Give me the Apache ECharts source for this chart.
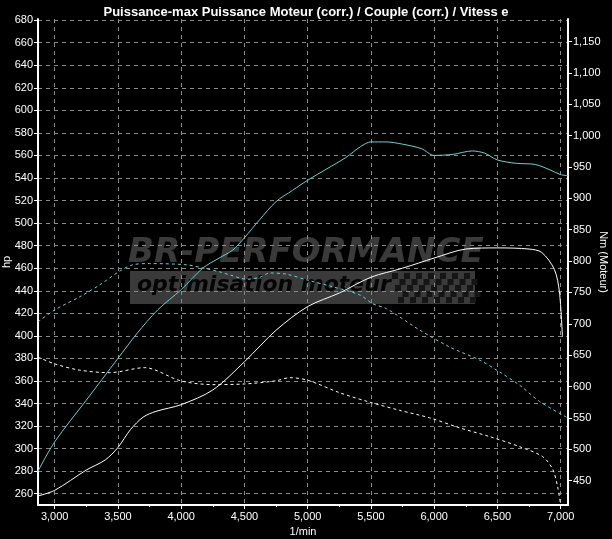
<!DOCTYPE html>
<html><head><meta charset="utf-8">
<script src="https://cdn.jsdelivr.net/npm/echarts@6/dist/echarts.min.js"></script>
<style>html,body{margin:0;padding:0;background:#000;}#c{width:612px;height:539px;}</style>
</head><body><div id="c"></div>
<script>
// ---- data ----
const titleText = 'Puissance-max Puissance Moteur (corr.) / Couple (corr.) / Vitess e';
const rpmTicks = [3000,3500,4000,4500,5000,5500,6000,6500,7000];
const rpmMinorTicks = [3250,3750,4250,4750,5250,5750,6250,6750];
const hpTicks = [260,280,300,320,340,360,380,400,420,440,460,480,500,520,540,560,580,600,620,640,660,680];
const nmTicks = [450,500,550,600,650,700,750,800,850,900,950,1000,1050,1100,1150];

// power after (cyan solid), hp
const rpmPowerAfter = [2868,3000,3250,3500,3650,3814,4000,4170,4300,4407,4500,4620,4750,4880,5000,5150,5300,5420,5500,5620,5750,5900,6000,6150,6300,6400,6500,6650,6800,6920,7000,7058];
const hpPowerAfter  = [280,306,343,380,402,423,441,460,469,476,487,503,519,529,538,548,558,568,572,572,570,566,560,561,564,562,556,553,552,547,543,542];

// torque after (cyan dashed), Nm
const rpmTorqueAfter = [2868,3000,3198,3356,3514,3617,3751,4043,4170,4300,4383,4518,4620,4700,4834,4992,5198,5411,5514,5624,5885,6122,6360,6518,6676,6834,7047];
const nmTorqueAfter  = [703,722,743,762,784,794,796,794,789,783,778,771,774,781,779,770,759,746,732,724,690,663,642,623,602,576,551];

// power before (white solid), hp
const rpmPowerBefore = [2868,3000,3250,3400,3500,3600,3700,3800,4000,4250,4500,4750,5000,5250,5500,5750,6000,6250,6500,6750,6850,6950,6990,7014];
const hpPowerBefore  = [258,263,281,290,301,317,328,333,339,352,377,405,426,438,452,460,469,477,478,477,474,459,439,399];

// torque before (white dashed), Nm
const rpmTorqueBefore = [2868,3000,3198,3435,3711,3996,4249,4502,4747,4858,5000,5253,5490,5727,5964,6202,6439,6676,6858,6937,6976,7000];
const nmTorqueBefore  = [647,636,626,622,630,609,603,604,609,614,610,590,575,562,550,534,520,504,488,468,440,411];

// ---- chart ----
const FONT = '"Liberation Sans Narrow","Arial Narrow","Liberation Sans",Arial,sans-serif';
const pairs = (xs, ys) => xs.map((x, i) => [x, ys[i]]);
const fmtComma = v => String(v).replace(/\B(?=(\d{3})+(?!\d))/g, ',');
const CYAN = '#6fd0d0';
const GRIDC = '#8a8a8a';

const chart = echarts.init(document.getElementById('c'), null, {renderer: 'canvas'});

// checkered flag squares (decoration of the watermark)
const flag = [];
for (let r = 0; r < 5; r++) {
  for (let c = 0; c < 14; c++) {
    if ((r + c) % 2 === 0) {
      flag.push({type: 'rect', shape: {x: 392 + c * 6 + r * 1.5, y: 273 + r * 6, width: 6, height: 6}, style: {fill: '#151515'}, z: -5, silent: true});
    }
  }
}

chart.setOption({
  backgroundColor: '#000',
  animation: false,
  title: {
    text: titleText, left: 'center', top: 1,
    textStyle: {color: '#fff', fontSize: 13, fontWeight: 'bold', fontFamily: FONT}
  },
  graphic: [
    {type: 'text', left: 128, top: 236, z: -5, silent: true,
     style: {text: 'BR-PERFORMANCE', fill: '#3a3a3a', font: 'italic bold 34px "DejaVu Sans", sans-serif'}},
    {type: 'rect', shape: {x: 130, y: 271, width: 345, height: 33}, style: {fill: '#3a3a3a'}, z: -6, silent: true},
    {type: 'text', left: 137, top: 274, z: -5, silent: true,
     style: {text: 'optimisation moteur', fill: '#050505', font: 'italic bold 22px "DejaVu Sans", sans-serif'}}
  ].concat(flag),
  grid: {left: 38, right: 44, top: 19, bottom: 34, show: false, containLabel: false, outerBoundsMode: 'none'},
  xAxis: [{
    type: 'value', min: 2868, max: 7058,
    name: '1/min', nameLocation: 'middle', nameGap: 21, nameMoveOverlap: false,
    nameTextStyle: {color: '#fff', fontSize: 11, fontFamily: FONT},
    axisLine: {show: true, onZero: false, lineStyle: {color: '#fff', width: 2}},
    axisTick: {show: true, length: 4, customValues: rpmTicks, lineStyle: {color: '#fff'}},
    axisLabel: {customValues: rpmTicks, color: '#fff', fontSize: 11, fontFamily: FONT, formatter: fmtComma, margin: 6},
    splitLine: {show: true, lineStyle: {color: GRIDC, type: [4, 4], width: 1}}
  }, {
    type: 'value', min: 2868, max: 7058, position: 'bottom',
    axisLine: {show: false},
    axisTick: {show: true, length: 2, customValues: rpmMinorTicks, lineStyle: {color: '#fff'}},
    axisLabel: {show: false}, splitLine: {show: false}
  }],
  yAxis: [{
    type: 'value', min: 250, max: 681, position: 'left',
    name: 'hp', nameLocation: 'middle', nameGap: 26, nameRotate: 90, nameMoveOverlap: false,
    nameTextStyle: {color: '#fff', fontSize: 11, fontFamily: FONT},
    axisLine: {show: true, onZero: false, lineStyle: {color: '#fff', width: 2}},
    axisTick: {show: true, length: 4, customValues: hpTicks, lineStyle: {color: '#fff'}},
    axisLabel: {customValues: hpTicks, color: '#fff', fontSize: 11, fontFamily: FONT, margin: 5},
    splitLine: {show: true, lineStyle: {color: GRIDC, type: [4, 4], width: 1}}
  }, {
    type: 'value', min: 411, max: 1186, position: 'right',
    name: 'Nm (Moteur)', nameLocation: 'middle', nameGap: 30, nameRotate: -90, nameMoveOverlap: false,
    nameTextStyle: {color: '#fff', fontSize: 11, fontFamily: FONT},
    axisLine: {show: true, onZero: false, lineStyle: {color: '#fff', width: 2}},
    axisTick: {show: true, length: 4, customValues: nmTicks, lineStyle: {color: '#fff'}},
    axisLabel: {customValues: nmTicks, color: '#fff', fontSize: 11, fontFamily: FONT, formatter: fmtComma, margin: 5},
    splitLine: {show: false}
  }],
  series: [
    {type: 'line', name: 'Puissance (après)', xAxisIndex: 0, yAxisIndex: 0, data: pairs(rpmPowerAfter, hpPowerAfter),
     showSymbol: false, smooth: 0.3, lineStyle: {color: CYAN, width: 1}, z: 4},
    {type: 'line', name: 'Couple (après)', xAxisIndex: 0, yAxisIndex: 1, data: pairs(rpmTorqueAfter, nmTorqueAfter),
     showSymbol: false, smooth: 0.3, lineStyle: {color: CYAN, width: 1, type: [3, 3]}, z: 4},
    {type: 'line', name: 'Puissance (avant)', xAxisIndex: 0, yAxisIndex: 0, data: pairs(rpmPowerBefore, hpPowerBefore),
     showSymbol: false, smooth: 0.3, lineStyle: {color: '#fff', width: 1}, z: 4},
    {type: 'line', name: 'Couple (avant)', xAxisIndex: 0, yAxisIndex: 1, data: pairs(rpmTorqueBefore, nmTorqueBefore),
     showSymbol: false, smooth: 0.3, lineStyle: {color: '#fff', width: 1, type: [3, 3]}, z: 4}
  ]
});
</script>
</body></html>
